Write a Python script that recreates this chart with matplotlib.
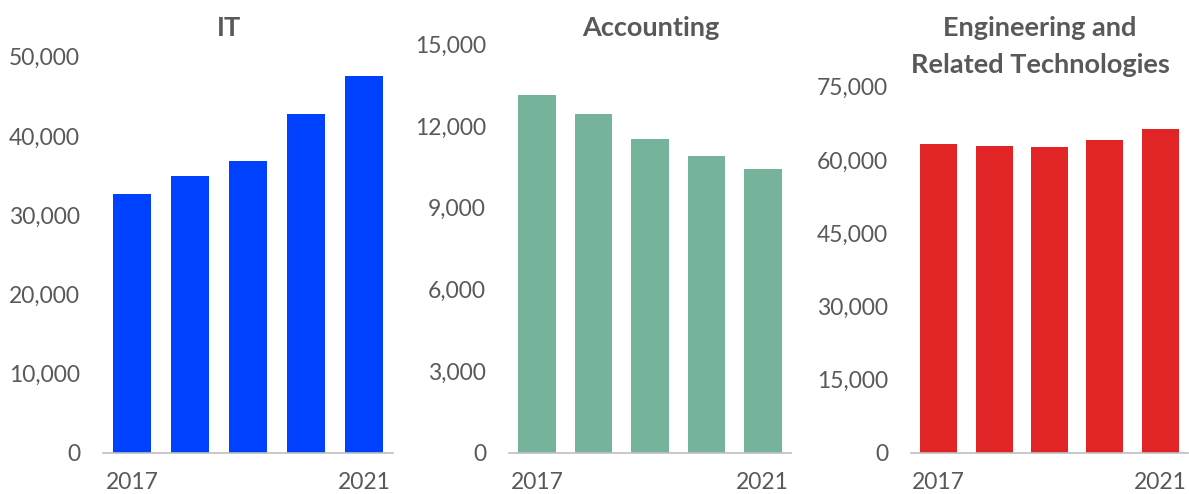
import matplotlib
matplotlib.use("Agg")
import matplotlib.pyplot as plt
from matplotlib.ticker import FuncFormatter

years = ["2017", "2018", "2019", "2020", "2021"]
it_values = [32700, 34980, 36870, 42710, 47500]
acc_values = [13120, 12430, 11510, 10900, 10410]
eng_values = [63320, 62910, 62640, 64020, 66390]

titles = [["IT"], ["Accounting"], ["Engineering and", "Related Technologies"]]
ymaxes = [50000, 15000, 75000]
ysteps = [10000, 3000, 15000]
colors = ["#0040FF", "#75B49A", "#E12527"]
series = [it_values, acc_values, eng_values]

W, H = 1189, 494
fig = plt.figure(figsize=(W / 100, H / 100), dpi=100)
plt.rcParams['font.family'] = ['Lato', 'DejaVu Sans']

# pixel layout: (left, right, top)
layout = [(103, 393, 56.7), (509, 791, 44.3), (911, 1188, 86.7)]
bottom_px = 452.7
title_x = [229, 651, 1040]
line_y = [28, 65]

for i in range(3):
    l, r, t = layout[i]
    ax = fig.add_axes([l / W, (H - bottom_px) / H, (r - l) / W, (bottom_px - t) / H])
    x = list(range(len(years)))
    ax.bar(x, series[i], width=0.67, color=colors[i], zorder=2)
    ax.set_xlim(-0.5, 4.5)
    ax.set_ylim(0, ymaxes[i])
    ax.set_yticks(list(range(0, ymaxes[i] + 1, ysteps[i])))
    ax.yaxis.set_major_formatter(FuncFormatter(lambda v, p: f"{int(v):,}"))
    ax.set_xticks([0, 4])
    ax.set_xticklabels([years[0], years[-1]])
    for s in ["top", "right", "left"]:
        ax.spines[s].set_visible(False)
    ax.spines["bottom"].set_color("#BFBFBF")
    ax.spines["bottom"].set_linewidth(1.2)
    ax.tick_params(axis="both", length=0, labelsize=16.5, colors="#595959")
    ax.tick_params(axis="y", pad=16.5)
    ax.tick_params(axis="x", pad=14)
    for j, line in enumerate(titles[i]):
        fig.text(title_x[i] / W, 1 - line_y[j] / H, line,
                 ha="center", va="center", fontsize=19.5, fontweight="bold",
                 color="#595959")

fig.savefig("out.png", dpi=100)
